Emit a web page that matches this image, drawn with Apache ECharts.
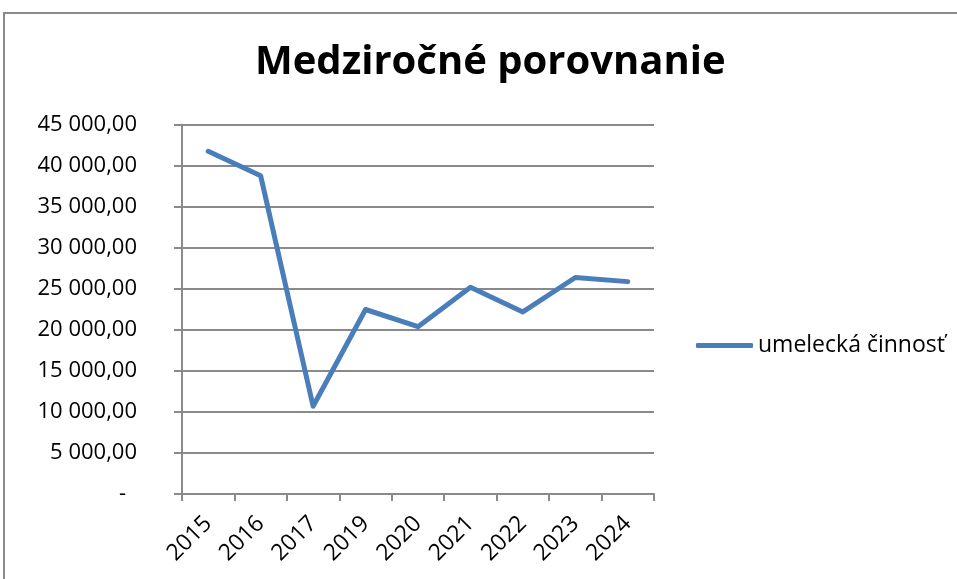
<!DOCTYPE html>
<html>
<head>
<meta charset="utf-8">
<script src="https://cdn.jsdelivr.net/npm/echarts@6/dist/echarts.min.js"></script>
<style>
  html, body { margin: 0; padding: 0; background: #fff; }
  #chart { width: 957px; height: 579px; }
</style>
</head>
<body>
<div id="chart"></div>
<script>
// roky a hodnoty odčítané z grafu
const years = ['2015', '2016', '2017', '2019', '2020', '2021', '2022', '2023', '2024'];
const umeleckaCinnost = [41800, 38800, 10700, 22500, 20400, 25200, 22200, 26400, 25900];
const seriesName = 'umelecká činnosť';
const titleText = 'Medziročné porovnanie';

const FONT = '"Open Sans", sans-serif';
const GRAY = '#8a8a8a';
const BLUE = '#4a7ebb';

// formát "45 000,00", nula ako "-"
const fmt = (v) => {
  if (v === 0) return '{z|-}';
  const s = Math.round(v).toString().replace(/\B(?=(\d{3})+(?!\d))/g, ' ');
  return s + ',00';
};

const chart = echarts.init(document.getElementById('chart'));

chart.setOption({
  backgroundColor: '#fff',
  animation: false,
  graphic: [{
    type: 'rect',
    shape: { x: 4, y: 13, width: 1000, height: 700 },
    style: { fill: 'none', stroke: GRAY, lineWidth: 2 },
    silent: true
  }],
  title: {
    text: titleText,
    left: 250,
    top: 38,
    textStyle: { fontFamily: FONT, fontSize: 40, fontWeight: 'bold', color: '#000' }
  },
  legend: {
    data: [seriesName],
    left: 691,
    top: 329,
    icon: 'roundRect',
    itemWidth: 57,
    itemHeight: 5,
    textStyle: { fontFamily: FONT, fontSize: 23, color: '#000' }
  },
  grid: { left: 182, right: 303, top: 125, bottom: 85 },
  xAxis: {
    type: 'category',
    data: years,
    boundaryGap: true,
    axisLine: { lineStyle: { color: GRAY, width: 2 } },
    axisTick: { show: true, length: 7, lineStyle: { color: GRAY, width: 2 } },
    axisLabel: {
      rotate: 45,
      margin: 26,
      fontFamily: FONT,
      fontSize: 23,
      color: '#000'
    },
    splitLine: { show: false }
  },
  yAxis: {
    type: 'value',
    min: 0,
    max: 45000,
    interval: 5000,
    axisLine: { show: true, lineStyle: { color: GRAY, width: 2 } },
    axisTick: { show: true, length: 8, lineStyle: { color: GRAY, width: 2 } },
    axisLabel: {
      margin: 45,
      fontFamily: FONT,
      fontSize: 22,
      color: '#000',
      formatter: fmt,
      rich: { z: { fontFamily: FONT, fontSize: 22, color: '#000', padding: [0, 11, 0, 0] } }
    },
    splitLine: { show: true, lineStyle: { color: GRAY, width: 2 } }
  },
  series: [{
    name: seriesName,
    type: 'line',
    data: umeleckaCinnost,
    symbol: 'none',
    itemStyle: { color: BLUE },
    lineStyle: { color: BLUE, width: 5, cap: 'round', join: 'round' }
  }]
});
</script>
</body>
</html>
